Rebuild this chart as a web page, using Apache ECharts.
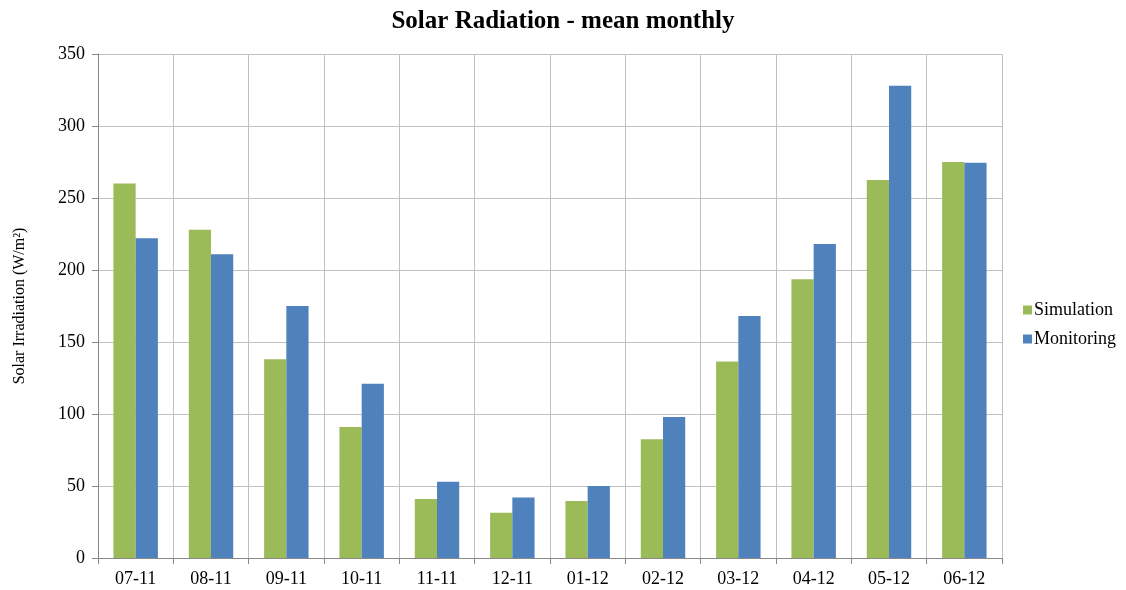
<!DOCTYPE html>
<html>
<head>
<meta charset="utf-8">
<script src="https://cdn.jsdelivr.net/npm/echarts@6/dist/echarts.min.js"></script>
<style>
html,body{margin:0;padding:0;background:#fff;}
#c{width:1126px;height:590px;}
</style>
</head>
<body>
<div id="c"></div>
<script>
const categories = ['07-11','08-11','09-11','10-11','11-11','12-11','01-12','02-12','03-12','04-12','05-12','06-12'];
const simulation = [260, 228, 138, 91, 41, 31.5, 39.5, 82.5, 136.5, 193.5, 262.5, 275];
const monitoring = [222, 211, 175, 121, 53, 42, 50, 98, 168, 218, 328, 274.5];
const yTicks = [0, 50, 100, 150, 200, 250, 300, 350];

const font = 'Liberation Serif, Times New Roman, serif';
const chart = echarts.init(document.getElementById('c'));
chart.setOption({
  animation: false,
  backgroundColor: '#fff',
  title: {
    text: 'Solar Radiation - mean monthly',
    left: 'center', top: 4,
    textStyle: {fontFamily: font, fontWeight: 'bold', fontSize: 25, color: '#000'}
  },
  legend: {
    orient: 'vertical',
    left: 1018, top: 296,
    itemWidth: 9, itemHeight: 9, itemGap: 11,
    icon: 'rect',
    textStyle: {fontFamily: font, fontSize: 18, color: '#000', padding: [0,0,0,-3]},
    data: ['Simulation', 'Monitoring']
  },
  grid: {left: 98, right: 124, top: 54, bottom: 32, containLabel: false},
  xAxis: {
    type: 'category',
    data: categories,
    boundaryGap: true,
    axisLine: {lineStyle: {color: '#888', width: 1}},
    axisTick: {show: true, length: 6, lineStyle: {color: '#888'}},
    splitLine: {show: true, lineStyle: {color: '#c0c0c0', width: 1}},
    axisLabel: {fontFamily: font, fontSize: 18, color: '#000', margin: 12}
  },
  yAxis: {
    type: 'value',
    min: yTicks[0], max: yTicks[yTicks.length-1], interval: 50,
    name: 'Solar Irradiation (W/m²)',
    nameLocation: 'middle', nameGap: 70,
    nameTextStyle: {fontFamily: font, fontSize: 16, color: '#000'},
    axisLine: {show: true, lineStyle: {color: '#888'}},
    axisTick: {show: true, length: 6, lineStyle: {color: '#888'}},
    splitLine: {show: true, lineStyle: {color: '#c0c0c0', width: 1}},
    axisLabel: {fontFamily: font, fontSize: 18, color: '#000', margin: 13}
  },
  series: [
    {name: 'Simulation', type: 'bar', data: simulation, barGap: '0%', barCategoryGap: '41%',
     itemStyle: {color: '#9BBB59'}},
    {name: 'Monitoring', type: 'bar', data: monitoring, barGap: '0%', barCategoryGap: '41%',
     itemStyle: {color: '#4F81BD'}}
  ]
});
</script>
</body>
</html>
